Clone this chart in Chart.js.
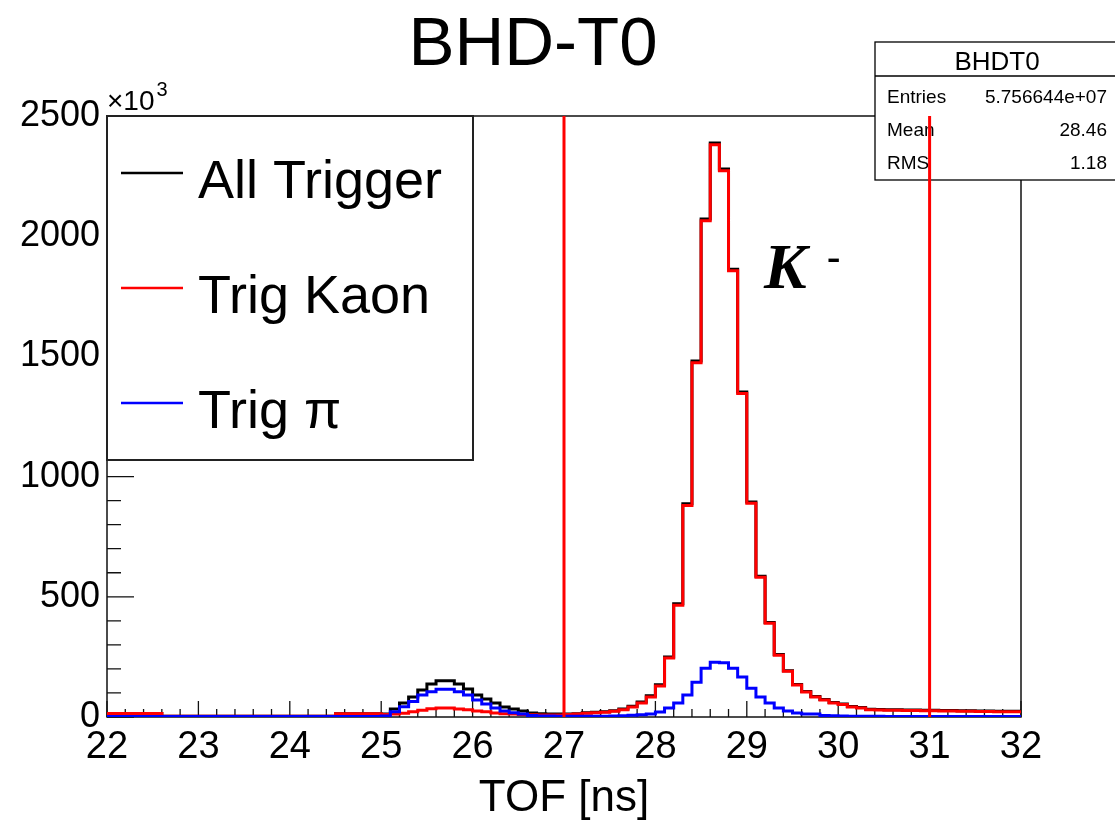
<!DOCTYPE html>
<html>
<head>
<meta charset="utf-8">
<title>BHD-T0</title>
<script src="https://cdn.jsdelivr.net/npm/chart.js@4.4.1/dist/chart.umd.min.js"></script>
<style>
  html, body { margin: 0; padding: 0; background: #fff; }
  #wrap { width: 1115px; height: 827px; position: relative; }
</style>
</head>
<body>
<div id="wrap"><canvas id="c" width="1115" height="827"></canvas></div>
<script>
// histogram binning: 100 bins of 0.1 ns from 22 to 32 ns
const binStart = 22;
const binWidth = 0.1;
const nBins = 100;

// bin contents, x10^3 counts
const allTrigger = [
  15, 15, 15, 15, 15, 15, 3, 3, 3, 3,
  3, 3, 3, 3, 3, 3, 3, 3, 3, 3,
  3, 3, 3, 3, 3, 14, 14, 14, 14, 14,
  12, 33, 58, 83, 112, 137, 151, 151, 137, 116,
  91, 75, 58, 42, 33, 25, 17, 14, 12, 12,
  12, 14, 18, 20, 22, 26, 33, 45, 62, 88,
  134, 250, 471, 887, 1481, 2072, 2388, 2280, 1863, 1352,
  894, 585, 393, 260, 192, 135, 106, 85, 73, 60,
  54, 44, 39, 32, 31, 30, 30, 29, 29, 28,
  28, 27, 27, 26, 26, 25, 25, 24, 24, 24
];
const trigKaon = [
  15, 15, 15, 15, 15, 15, 3, 3, 3, 3,
  3, 3, 3, 3, 3, 3, 3, 3, 3, 3,
  3, 3, 3, 3, 3, 14, 14, 14, 14, 14,
  10, 12, 16, 22, 28, 34, 37, 37, 33, 30,
  25, 22, 17, 14, 12, 10, 9, 8, 8, 8,
  10, 12, 16, 18, 20, 24, 30, 42, 58, 83,
  129, 245, 465, 880, 1474, 2064, 2380, 2272, 1856, 1346,
  889, 581, 390, 257, 190, 133, 104, 83, 71, 58,
  52, 42, 37, 30, 29, 28, 28, 27, 27, 26,
  26, 25, 25, 24, 24, 23, 23, 22, 22, 22
];
const trigPi = [
  2, 2, 2, 2, 2, 2, 2, 2, 2, 2,
  2, 2, 2, 2, 2, 2, 2, 2, 2, 2,
  2, 2, 2, 2, 2, 2, 2, 2, 2, 2,
  4, 22, 43, 64, 91, 105, 115, 115, 105, 91,
  71, 54, 37, 25, 18, 12, 6, 4, 4, 3,
  3, 3, 3, 3, 3, 4, 5, 7, 9, 12,
  21, 37, 58, 91, 145, 203, 228, 226, 203, 166,
  120, 83, 58, 37, 25, 17, 12, 12, 6, 5,
  4, 3, 3, 3, 3, 2, 2, 2, 2, 2,
  2, 2, 2, 2, 2, 2, 2, 2, 2, 2
];

// TOF cut positions (ns)
const cutLines = [27, 31];

const seriesLabels = ['All Trigger', 'Trig Kaon', 'Trig \u03c0'];
const seriesColors = ['#000000', '#ff0000', '#0000ff'];

const statsRows = [['Entries', '5.756644e+07'], ['Mean', '28.46'], ['RMS', '1.18']];

const binEdges = Array.from({ length: nBins + 1 }, (_, i) => Math.round((binStart + i * binWidth) * 10) / 10);

function histPoints(values) {
  const pts = values.map((v, i) => ({ x: binEdges[i], y: v }));
  pts.push({ x: binEdges[nBins], y: values[nBins - 1] });
  return pts;
}

const FONT = '"Liberation Sans", Arial, Helvetica, sans-serif';

const rootStyle = {
  id: 'rootStyle',
  beforeDatasetsDraw(chart) {
    const { ctx, chartArea: a, scales: { x, y } } = chart;
    ctx.save();

    // frame
    ctx.strokeStyle = '#111';
    ctx.lineWidth = 1.5;
    ctx.strokeRect(a.left, a.top, a.right - a.left, a.bottom - a.top);

    // ticks point into the frame
    ctx.lineWidth = 1.3;
    ctx.beginPath();
    for (let k = 0; k <= 50; k++) {
      const px = x.getPixelForValue(22 + k * 0.2);
      const len = k % 5 === 0 ? 16 : 8;
      ctx.moveTo(px, a.bottom);
      ctx.lineTo(px, a.bottom - len);
    }
    for (let k = 0; k <= 25; k++) {
      const py = y.getPixelForValue(k * 100);
      const len = k % 5 === 0 ? 27 : 14;
      ctx.moveTo(a.left, py);
      ctx.lineTo(a.left + len, py);
    }
    ctx.stroke();

    // legend
    const lx = a.left, ly = a.top, lw = 366, lh = 344;
    ctx.fillStyle = '#fff';
    ctx.fillRect(lx, ly, lw, lh);
    ctx.strokeStyle = '#222';
    ctx.lineWidth = 2;
    ctx.strokeRect(lx, ly, lw, lh);
    ctx.font = '54px ' + FONT;
    ctx.textAlign = 'left';
    ctx.textBaseline = 'alphabetic';
    seriesLabels.forEach((lab, i) => {
      const base = ly + 82 + i * 115;
      ctx.strokeStyle = seriesColors[i];
      ctx.lineWidth = 2.5;
      ctx.beginPath();
      ctx.moveTo(lx + 14, base - 25);
      ctx.lineTo(lx + 76, base - 25);
      ctx.stroke();
      ctx.fillStyle = '#000';
      ctx.fillText(lab, lx + 91, base);
    });

    // stats box
    const sx = 875, sy = 42, sw = 245, sh = 138;
    ctx.fillStyle = '#fff';
    ctx.fillRect(sx, sy, sw, sh);
    ctx.strokeStyle = '#000';
    ctx.lineWidth = 1.3;
    ctx.strokeRect(sx, sy, sw, sh);
    ctx.beginPath();
    ctx.moveTo(sx, sy + 34);
    ctx.lineTo(sx + sw, sy + 34);
    ctx.stroke();
    ctx.fillStyle = '#000';
    ctx.font = '26px ' + FONT;
    ctx.textAlign = 'center';
    ctx.fillText('BHDT0', 997, sy + 28);
    ctx.font = '19px ' + FONT;
    statsRows.forEach((r, i) => {
      const base = sy + 61 + i * 33;
      ctx.textAlign = 'left';
      ctx.fillText(r[0], sx + 12, base);
      ctx.textAlign = 'right';
      ctx.fillText(r[1], 1107, base);
    });

    ctx.restore();
  },
  afterDraw(chart) {
    const { ctx, chartArea: a } = chart;
    ctx.save();
    ctx.fillStyle = '#000';
    ctx.textBaseline = 'alphabetic';

    // title
    ctx.font = '69px ' + FONT;
    ctx.textAlign = 'center';
    ctx.fillText('BHD-T0', 533, 65);

    // axis multiplier
    ctx.textAlign = 'left';
    ctx.font = '28px ' + FONT;
    ctx.fillText('\u00d710', a.left, a.top - 6);
    const w = ctx.measureText('\u00d710').width;
    ctx.font = '20px ' + FONT;
    ctx.fillText('3', a.left + w + 2, a.top - 20);

    // K- label
    ctx.font = 'italic bold 64px "Liberation Serif", "Times New Roman", serif';
    ctx.fillText('K', 764, 288);
    ctx.font = 'bold 40px "Liberation Serif", "Times New Roman", serif';
    ctx.fillText('-', 827, 270);

    ctx.restore();
  }
};

const histData = [allTrigger, trigKaon, trigPi];
const datasets = histData.map((vals, i) => ({
  label: seriesLabels[i],
  data: histPoints(vals),
  borderColor: seriesColors[i],
  borderWidth: 3,
  stepped: true,
  pointRadius: 0,
  fill: false,
  order: 3 - i
}));
cutLines.forEach(t => {
  datasets.push({
    label: 'cut ' + t,
    data: [{ x: t, y: 0 }, { x: t, y: 2500 }],
    borderColor: '#ff0000',
    borderWidth: 3,
    pointRadius: 0,
    fill: false,
    order: 0
  });
});

new Chart(document.getElementById('c'), {
  type: 'line',
  data: { datasets },
  options: {
    responsive: false,
    animation: false,
    layout: { padding: { top: 116, right: 94, left: 0, bottom: 0 } },
    plugins: {
      legend: { display: false },
      tooltip: { enabled: false },
      title: { display: false }
    },
    scales: {
      x: {
        type: 'linear',
        min: 22,
        max: 32,
        afterFit(s) { s.height = 110; },
        grid: { display: false, drawTicks: false },
        border: { display: false },
        ticks: {
          stepSize: 1,
          autoSkip: false,
          maxRotation: 0,
          padding: 8,
          color: '#000',
          font: { family: 'Liberation Sans', size: 38 },
          callback: v => String(v)
        },
        title: {
          display: true,
          text: 'TOF [ns]',
          color: '#000',
          font: { family: 'Liberation Sans', size: 44, lineHeight: 1.2 },
          padding: { top: 0, bottom: 2 }
        }
      },
      y: {
        min: 0,
        max: 2500,
        afterFit(s) { s.width = 107; },
        grid: { display: false, drawTicks: false },
        border: { display: false },
        ticks: {
          stepSize: 500,
          autoSkip: false,
          padding: 7,
          color: '#000',
          font: { family: 'Liberation Sans', size: 36 },
          callback: v => String(v)
        }
      }
    }
  },
  plugins: [rootStyle]
});
</script>
</body>
</html>
